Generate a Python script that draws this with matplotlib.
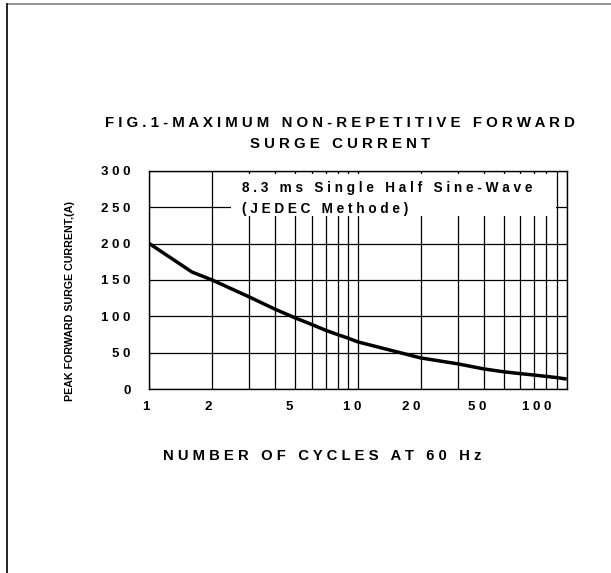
import matplotlib
matplotlib.use("Agg")
import matplotlib.pyplot as plt
from matplotlib.lines import Line2D
from matplotlib.patches import Rectangle
from matplotlib.ticker import LogLocator, NullFormatter
from matplotlib.transforms import blended_transform_factory

# Curva (ciclos x corrente de pico)
ciclos = [1, 1.6, 2, 3, 4, 5, 6, 7, 8, 9, 10, 20, 30, 40, 50, 60, 70, 90, 100]
corrente = [200, 161, 150, 127, 110, 98, 89, 81, 75, 70, 65, 43, 35, 28, 24, 21.5, 19.5, 16, 14]

# Rótulos do eixo x (no original ficam deslocados das linhas)
xtick_pos = [0.964, 1.905, 4.67, 9.36, 17.9, 37.1, 71.8]
xtick_labels = ["1", "2", "5", "10", "20", "50", "100"]
ytick_vals = [0, 50, 100, 150, 200, 250, 300]

FONTE = "Liberation Sans"
W, H = 611, 573


def espacado(s):
    # imita o espaçamento largo entre letras do datasheet
    return "   ".join(" ".join(w) for w in s.split(" "))


def fx(px):
    return px / W


def fy(py):
    return 1 - py / H


fig = plt.figure(figsize=(W / 100, H / 100), dpi=100)
ax = fig.add_axes([fx(149.3), fy(389.3), fx(566.7) - fx(149.3), fy(170.7) - fy(389.3)])

ax.plot(ciclos, corrente, color="black", lw=2.5, solid_capstyle="butt", zorder=3)

ax.set_xscale("log")
ax.set_xlim(1, 100)
ax.set_ylim(0, 300)
ax.xaxis.set_major_locator(LogLocator(base=10, subs=range(1, 10)))
ax.xaxis.set_major_formatter(NullFormatter())
ax.xaxis.set_minor_formatter(NullFormatter())
ax.set_yticks(ytick_vals)
ax.set_yticklabels([espacado(str(v)) for v in ytick_vals])
ax.tick_params(length=0)
ax.tick_params(axis="y", pad=13.5, labelsize=9.5)
for lab in ax.get_yticklabels():
    lab.set_fontfamily(FONTE)
    lab.set_fontweight("bold")
ax.grid(True, which="major", color="black", lw=0.9)
for sp in ax.spines.values():
    sp.set_linewidth(1.0)

# rótulos do eixo x como texto
trans = blended_transform_factory(ax.transData, ax.transAxes)
for p, lab in zip(xtick_pos, xtick_labels):
    ax.text(p, -0.08, espacado(lab), transform=trans, ha="center", va="center",
            fontsize=9.5, fontweight="bold", family=FONTE, clip_on=False)

# caixa branca com a legenda do ensaio
fig.add_artist(Rectangle((fx(231), fy(216)), fx(556) - fx(231), fy(174) - fy(216),
                         transform=fig.transFigure, facecolor="white", edgecolor="none", zorder=2))
fig.text(fx(241.7), fy(188.3), espacado("8.3 ms Single Half Sine-Wave"), ha="left", va="center",
         fontsize=9.8, fontweight="bold", family=FONTE, zorder=3)
fig.text(fx(241.7), fy(209.5), espacado("(JEDEC Methode)"), ha="left", va="center",
         fontsize=9.8, fontweight="bold", family=FONTE, zorder=3)

# título
fig.text(fx(340), fy(123), espacado("FIG.1-MAXIMUM NON-REPETITIVE FORWARD"), ha="center", va="center",
         fontsize=10.8, fontweight="bold", family=FONTE)
fig.text(fx(340), fy(144), espacado("SURGE CURRENT"), ha="center", va="center",
         fontsize=10.8, fontweight="bold", family=FONTE)

# rótulos dos eixos
fig.text(fx(322), fy(455.7), espacado("NUMBER OF CYCLES AT 60 Hz"), ha="center", va="center",
         fontsize=10.7, fontweight="bold", family=FONTE)
fig.text(fx(70), fy(301), "PEAK FORWARD SURGE CURRENT,(A)", ha="center", va="center",
         rotation=90, fontsize=7.7, fontweight="bold", family=FONTE)

# moldura da página
fig.add_artist(Line2D([fx(7), 1], [fy(4), fy(4)], transform=fig.transFigure, color="#808080", lw=1.2))
fig.add_artist(Line2D([fx(7), fx(7)], [fy(4), 0], transform=fig.transFigure, color="black", lw=1.2))

fig.savefig("out.png", dpi=100)
